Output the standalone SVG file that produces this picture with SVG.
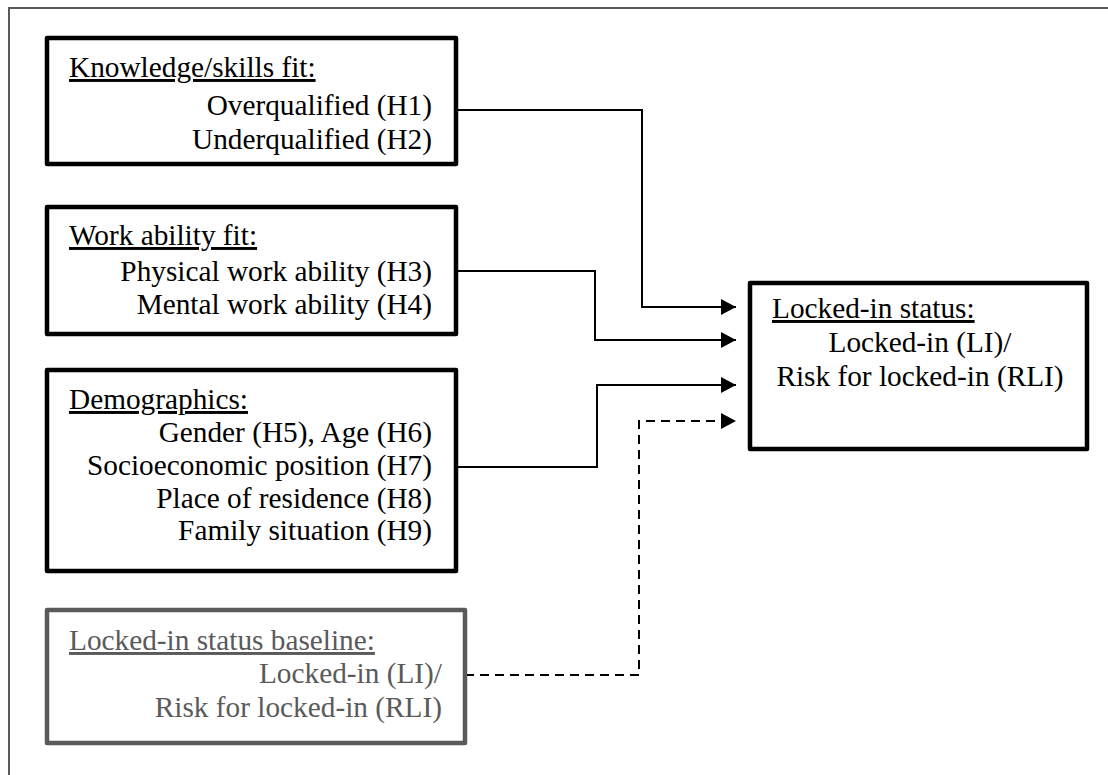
<svg xmlns="http://www.w3.org/2000/svg" width="1108" height="775" viewBox="0 0 1108 775">
<style>
.box{fill:#fff;stroke:#000;stroke-width:4.5;stroke-linejoin:round}
.gbox{fill:#fff;stroke:#5a5a5a;stroke-width:4.5;stroke-linejoin:round}
text{font-family:"Liberation Serif","Times New Roman",serif;font-size:29.3px;fill:#000}
.g{fill:#5a5a5a}
.h{text-decoration:underline}
.r{text-anchor:end}
.c{text-anchor:middle}
.con{fill:none;stroke:#000;stroke-width:2}
.dash{stroke-dasharray:9 6}
</style>
<defs>
<marker id="arr" markerUnits="userSpaceOnUse" markerWidth="16" markerHeight="16" refX="15" refY="8" orient="auto">
<path d="M0,0 L15,8 L0,16 z" fill="#000"/>
</marker>
</defs>
<rect width="1108" height="775" fill="#fff"/>
<rect x="9" y="8" width="1120" height="790" fill="none" stroke="#5a5a5a" stroke-width="2"/>
<g id="connectors">
<path class="con" d="M456,110 H642 V307 H736" marker-end="url(#arr)"/>
<path class="con" d="M456,271 H595 V340 H736" marker-end="url(#arr)"/>
<path class="con" d="M456,467 H597 V385 H736" marker-end="url(#arr)"/>
<path class="con dash" d="M465,675 H639 V421 H736" marker-end="url(#arr)"/>
</g>
<g id="knowledge">
<rect class="box" x="47" y="38" width="409" height="126"/>
<text class="h" x="69" y="77">Knowledge/skills fit:</text>
<text class="r" x="432" y="115">Overqualified (H1)</text>
<text class="r" x="432" y="149">Underqualified (H2)</text>
</g>
<g id="workability">
<rect class="box" x="47" y="207" width="409" height="127"/>
<text class="h" x="69" y="245">Work ability fit:</text>
<text class="r" x="432" y="281">Physical work ability (H3)</text>
<text class="r" x="432" y="314">Mental work ability (H4)</text>
</g>
<g id="demographics">
<rect class="box" x="47" y="370" width="409" height="201"/>
<text class="h" x="69" y="409">Demographics:</text>
<text class="r" x="432" y="442">Gender (H5), Age (H6)</text>
<text class="r" x="432" y="475">Socioeconomic position (H7)</text>
<text class="r" x="432" y="508">Place of residence (H8)</text>
<text class="r" x="432" y="540">Family situation (H9)</text>
</g>
<g id="baseline">
<rect class="gbox" x="47" y="610" width="418" height="133"/>
<text class="h g" x="69" y="650">Locked-in status baseline:</text>
<text class="r g" x="442" y="683">Locked-in (LI)/</text>
<text class="r g" x="442" y="717">Risk for locked-in (RLI)</text>
</g>
<g id="lockedin">
<rect class="box" x="750" y="283" width="337" height="166"/>
<text class="h" x="772" y="318">Locked-in status:</text>
<text class="c" x="920" y="352">Locked-in (LI)/</text>
<text class="c" x="920" y="386">Risk for locked-in (RLI)</text>
</g>
</svg>
